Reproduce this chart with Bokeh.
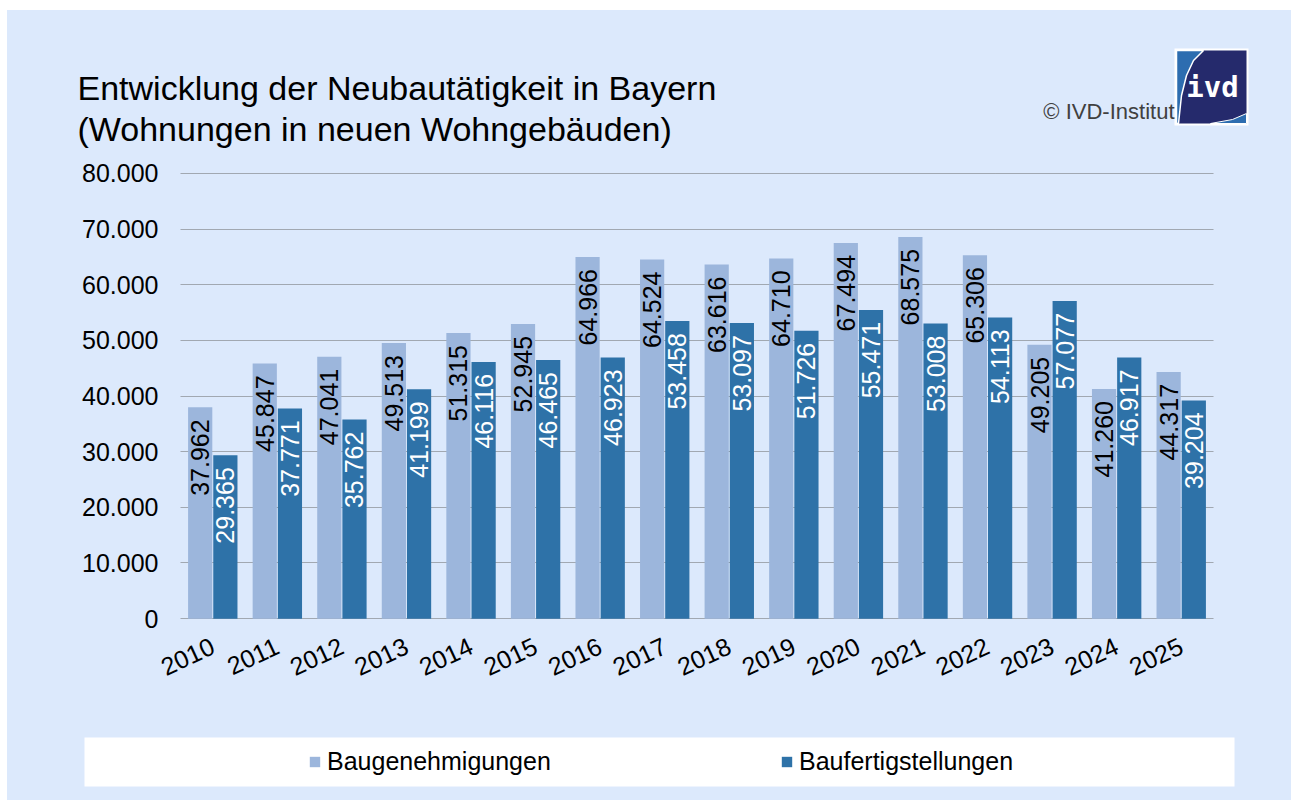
import math
from bokeh.plotting import figure
from bokeh.layouts import column
from bokeh.models import (ColumnDataSource, FactorRange, Range1d, FixedTicker, Label,
                          Legend, LegendItem)
from bokeh.transform import dodge
from bokeh.core.properties import value
from bokeh.embed import file_html
from bokeh.resources import INLINE

# ---------------- data ----------------
years = ["2010", "2011", "2012", "2013", "2014", "2015", "2016", "2017",
         "2018", "2019", "2020", "2021", "2022", "2023", "2024", "2025"]
baugenehmigungen = [37962, 45847, 47041, 49513, 51315, 52945, 64966, 64524,
                    63616, 64710, 67494, 68575, 65306, 49205, 41260, 44317]
baufertigstellungen = [29365, 37771, 35762, 41199, 46116, 46465, 46923, 53458,
                       53097, 51726, 55471, 53008, 54113, 57077, 46917, 39204]
series_names = ["Baugenehmigungen", "Baufertigstellungen"]
y_ticks = [0, 10000, 20000, 30000, 40000, 50000, 60000, 70000, 80000]
y_tick_labels = ["0", "10.000", "20.000", "30.000", "40.000", "50.000",
                 "60.000", "70.000", "80.000"]
title_line1 = "Entwicklung der Neubautätigkeit in Bayern"
title_line2 = "(Wohnungen in neuen Wohngebäuden)"
copyright_text = "© IVD-Institut"
logo_text = "ivd"


def de(v):
    return f"{v:,}".replace(",", ".")


BG = "#dce9fc"
LIGHT = "#9cb6dc"
DARK = "#2e72a8"
NAVY = "#252a6c"
LOGO_BLUE = "#2d6db0"
FONT = "Liberation Sans"
W = 1284
LBL_SHIFT = 12  # Label baseline correction (px)

# ---------------- header (title + logo) ----------------
HX, HY = 7, 10  # page offset of header
HH = 148
header = figure(width=W, height=HH, x_range=Range1d(0, W), y_range=Range1d(HH, 0),
                output_backend="svg", toolbar_location=None, min_border=0,
                background_fill_color=BG, border_fill_color=BG, outline_line_color=None)
header.frame_align = False
header.axis.visible = False
header.grid.visible = False

header.add_layout(Label(x=77 - HX, y=99 - HY - LBL_SHIFT, text=title_line1, text_font=FONT,
                        text_font_size="34px", text_color="black",
                        text_baseline="alphabetic"))
header.add_layout(Label(x=77 - HX, y=140 - HY - LBL_SHIFT, text=title_line2, text_font=FONT,
                        text_font_size="34px", text_color="black",
                        text_baseline="alphabetic"))
header.add_layout(Label(x=1174 - HX, y=123 - HY - LBL_SHIFT, text=copyright_text,
                        text_font=FONT, text_font_size="22px", text_color="#404040",
                        text_align="right", text_baseline="alphabetic"))
# logo
header.quad(left=[1174 - HX], right=[1248 - HX], top=[48 - HY], bottom=[125 - HY],
            fill_color="white", line_color=None)
header.quad(left=[1176 - HX], right=[1246 - HX], top=[50 - HY], bottom=[123 - HY],
            fill_color=NAVY, line_color=None)
sw_x = [1176, 1203, 1193, 1186, 1181, 1178, 1176]
sw_y = [50, 50, 60, 75, 95, 123, 123]
header.patch([v - HX for v in sw_x], [v - HY for v in sw_y], fill_color=LOGO_BLUE,
             line_color="white", line_width=1.5)
sw2_x = [1210, 1246, 1246, 1232]
sw2_y = [123, 123, 113, 119]
header.patch([v - HX for v in sw2_x], [v - HY for v in sw2_y], fill_color=LOGO_BLUE,
             line_color="white", line_width=1)
header.add_layout(Label(x=1212 - HX, y=98 - HY - LBL_SHIFT, text=logo_text,
                        text_font="DejaVu Sans Mono", text_font_style="bold",
                        text_font_size="29px", text_color="white",
                        text_align="center", text_baseline="alphabetic"))

# ---------------- main chart ----------------
src = ColumnDataSource(dict(
    year=years,
    light=baugenehmigungen,
    dark=baufertigstellungen,
    light_lbl=[de(v) for v in baugenehmigungen],
    dark_lbl=[de(v) for v in baufertigstellungen],
))

p = figure(x_range=FactorRange(*years), y_range=Range1d(-150, 80150),
           width=W, height=562, output_backend="svg", toolbar_location=None,
           min_border_left=173, min_border_right=78, min_border_top=14,
           min_border_bottom=101, background_fill_color=BG, border_fill_color=BG,
           outline_line_color=None)
p.frame_align = False

p.xgrid.grid_line_color = None
p.ygrid.ticker = FixedTicker(ticks=y_ticks)
p.ygrid.grid_line_color = "#666666"
p.ygrid.grid_line_dash = "1 1"
p.ygrid.grid_line_width = 1

r_light = p.vbar(x=dodge("year", -0.195, range=p.x_range), top="light", width=0.375,
                 source=src, fill_color=LIGHT, line_color=None)
r_dark = p.vbar(x=dodge("year", 0.195, range=p.x_range), top="dark", width=0.375,
                source=src, fill_color=DARK, line_color=None)

p.text(x=dodge("year", -0.195, range=p.x_range), y="light", text="light_lbl", source=src,
       angle=math.pi / 2, text_align="right", text_baseline="middle", y_offset=12,
       text_font=value(FONT), text_font_size="25px", text_color="black")
p.text(x=dodge("year", 0.195, range=p.x_range), y="dark", text="dark_lbl", source=src,
       angle=math.pi / 2, text_align="right", text_baseline="middle", y_offset=12,
       text_font=value(FONT), text_font_size="25px", text_color="white")

p.yaxis.ticker = FixedTicker(ticks=y_ticks)
p.yaxis.major_label_overrides = {t: l for t, l in zip(y_ticks, y_tick_labels)}
for ax in (p.xaxis[0], p.yaxis[0]):
    ax.axis_line_color = None
    ax.major_tick_line_color = None
    ax.minor_tick_line_color = None
    ax.major_tick_out = 0
    ax.major_tick_in = 0
    ax.major_label_text_font = FONT
    ax.major_label_text_font_size = "25px"
    ax.major_label_text_color = "black"
p.yaxis.major_label_standoff = 22
p.xaxis.major_label_orientation = math.radians(25)
p.xaxis.major_label_standoff = 25

# ---------------- footer (legend) ----------------
FY = 720
footer = figure(width=W, height=80, x_range=Range1d(0, W), y_range=Range1d(80, 0),
                output_backend="svg", toolbar_location=None, min_border=0,
                background_fill_color=BG, border_fill_color=BG, outline_line_color=None)
footer.frame_align = False
footer.axis.visible = False
footer.grid.visible = False
footer.quad(left=[84 - HX], right=[1234 - HX], top=[737 - FY], bottom=[786 - FY],
            fill_color="white", line_color=None)
# zero-size proxy bars that only carry the legend swatches
f_light = footer.vbar(x=[0], top=[0], bottom=[0], width=0, fill_color=LIGHT, line_color=None)
f_dark = footer.vbar(x=[0], top=[0], bottom=[0], width=0, fill_color=DARK, line_color=None)
legend = Legend(items=[LegendItem(label=series_names[0], renderers=[f_light]),
                       LegendItem(label=series_names[1], renderers=[f_dark])],
                location=(308 - HX, 80 - (776 - FY)), orientation="horizontal",
                glyph_width=13, glyph_height=13, label_standoff=6, label_width=453,
                spacing=0, padding=0, margin=0, background_fill_alpha=0,
                border_line_color=None, label_text_font=FONT, label_text_font_size="25px",
                label_text_color="black")
footer.add_layout(legend)

layout = column(header, p, footer, spacing=0)
layout.margin = (10, 0, 0, 7)
layout.styles = {"background-color": BG}

open("out.html", "w").write(file_html(layout, INLINE))
